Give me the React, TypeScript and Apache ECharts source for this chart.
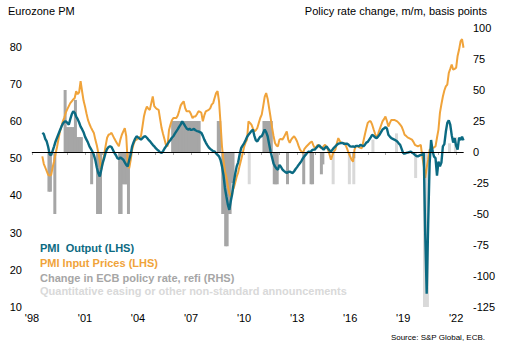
import React, { useEffect, useRef } from 'react';
import * as echarts from 'echarts';

// First month of the PMI series: July 1998
const startYear = 1998;
const startMonth = 7;

// Eurozone PMI Output (LHS), monthly from Jul 1998
const pmiOutput: number[] = [
  56.8, 56.5, 55.2, 54.5, 53, 51,
  50.8, 52, 53.2, 54.5, 55.5, 56.5, 57.5, 58.5, 59.3, 59.8, 59.9, 59.5,
  59, 60.5, 61.8, 62.6, 62.2, 61.2, 60.5, 59.6, 58.5, 57.8, 57, 55.8,
  55, 54.2, 53.2, 52.5, 51.8, 50.9, 49.5, 47.5, 46, 45.1, 46.8, 48.7,
  50, 51.5, 52.5, 53, 53.2, 53, 52.2, 51.4, 50.8, 50, 49.8, 50.2,
  49.9, 49.6, 48.9, 48.2, 47.8, 49.5, 51, 53.2, 54.3, 55.2, 55.9, 55.6,
  55.3, 55, 55.4, 55.8, 55.9, 55.5, 55, 54.6, 54.1, 53.6, 53.2, 52.7,
  52.3, 52, 51.6, 51.4, 51.9, 52.6, 53.2, 53.8, 54.4, 54.9, 55.5, 55.9,
  56.6, 57.2, 57.8, 58.5, 59.1, 59.9, 59.3, 58.6, 58, 57.7, 57.9, 57.6,
  57.7, 57.9, 57.5, 57.3, 57.2, 57, 56.8, 56, 55, 54.2, 53.5, 52.9,
  52.5, 52.2, 51.9, 51.8, 51.3, 50.9, 50.5, 49.5, 47.8, 45.5, 42, 39.7,
  37.5, 36.1, 38.5, 40.5, 43.5, 45.8, 47.8, 48.9, 51, 52.7, 53.4, 54,
  54.8, 55.7, 56.3, 56.8, 57.3, 57.7, 56, 54.8, 54.5, 55.2, 55.8, 55.9,
  56.8, 57.7, 57, 55.9, 53.8, 51.8, 50.2, 48.6, 47.8, 47.2, 46.9, 48.2,
  47.7, 47, 46.6, 46.3, 46, 46.3, 46.4, 46.2, 46, 46.5, 47.1, 47.6,
  48.2, 48.7, 49.3, 50, 50.5, 51, 51.5, 51.8, 51.6, 52.1, 52.3, 52.3,
  52.8, 53.2, 53.5, 53, 52.7, 52.3, 52.8, 53.2, 52.6, 52.1, 51.8, 52.3,
  52.8, 53.2, 53.6, 53.9, 54, 54.1, 54.1, 53.8, 53.9, 53.9, 53.6, 53.2,
  53.1, 53.2, 53, 53.3, 53.3, 53.2, 53.6, 53.4, 53.2, 53.6, 54.2, 54.4,
  55, 55.6, 56.3, 56, 55.6, 55.4, 55.8, 56.3, 57, 57.7, 58, 58.3,
  58, 56.3, 55.8, 55.4, 55.2, 55, 54.8, 54.5, 54, 53.6, 52.5, 51.4,
  51.2, 51.4, 51.5, 51.6, 51.8, 51.5, 51.3, 50.9, 50.6, 50.5, 50.7, 50.9,
  50.9, 51.6, 29.7, 13.6, 31.9, 48.5, 54.9, 51.9, 50.4, 50, 45.3, 49.1,
  47.8, 48.8, 53.2, 53.8, 57.1, 59.5, 60.2, 59, 56.2, 54.2, 55.4, 53.3,
  52.3, 55.5, 54.9, 55.8, 54.8,
];

// Eurozone PMI Input Prices (LHS), monthly from Jul 1998
const pmiInputPrices: number[] = [
  50.5, 48.5, 47.5, 46.5, 45.5, 45.3,
  45.5, 47.5, 49.2, 51.2, 53, 55.2, 57.2, 58.5, 60, 61, 62.3, 63.2,
  64, 64.8, 65.3, 65.8, 66.2, 68, 67.2, 67.7, 70.7, 68, 65.5, 63.9,
  62, 60.3, 59.2, 58.3, 57.5, 56.8, 55, 53.5, 51.5, 49.6, 46.9, 48.8,
  51, 53.3, 55.5, 56.3, 56.5, 56.8, 56, 55.2, 54.5, 53.8, 53.2, 55,
  56.3, 57.2, 58.1, 55.9, 48.7, 47.3, 49.5, 52.3, 53.8, 54.8, 55, 55.3,
  55.6, 55.9, 58.5, 61.2, 62.8, 63.9, 63.3, 63, 64.8, 66.6, 64, 63.5,
  63.2, 63, 60.5, 58.1, 56.5, 55, 53.5, 53.2, 57.5, 59, 60.2, 60.8,
  60.8, 60.8, 61.5, 62.8, 64.2, 64.8, 65.3, 63.5, 62.6, 62.6, 62.6, 61.8,
  60.8, 61.2, 61.2, 61.8, 62.6, 62.5, 62.2, 59.9, 61.5, 62.6, 62.8, 63,
  63.4, 64.4, 64.8, 66.2, 67.5, 68, 65.3, 59.5, 53.2, 49.5, 46.5, 45,
  42.5, 40.6, 39.7, 41, 42, 43.5, 45, 46.2, 48, 49.6, 51.2, 53,
  54.2, 55, 59.9, 59.5, 59, 58, 57.2, 57.5, 58.1, 59.5, 60.8, 61.7,
  64, 66.5, 67.5, 66, 63.5, 61, 58.3, 56, 54.1, 53.4, 53.2, 55,
  55.2, 55, 55.6, 56.4, 57.2, 55, 54.1, 55, 55.5, 55.9, 55.3, 54.5,
  53.3, 52.3, 51.8, 51.4, 52.5, 53, 53.4, 53.8, 54.2, 54.5, 53.5, 52.7,
  53, 53.6, 53.2, 52.8, 52.7, 53.2, 53.6, 53, 52.3, 51, 49.6, 50.8,
  51.8, 52.3, 54, 55.4, 54.6, 54.1, 54.1, 54, 53.5, 52.5, 51.4, 50.5,
  49.6, 49.1, 52.3, 53.3, 53.2, 53, 52.8, 52.7, 54.5, 56.3, 58, 59.5,
  59.9, 59.9, 59, 57.7, 56.5, 55.4, 56.5, 57.7, 58.8, 59.9, 60.5, 61.2,
  60, 58.5, 59.5, 60.3, 60.3, 60.3, 60.1, 59.9, 59.5, 59, 58.5, 57.5,
  56.3, 56, 55.6, 55.4, 55.2, 55, 54.4, 53.6, 53.4, 53.2, 53.4, 53.6,
  50.5, 48, 44.7, 47.5, 49.6, 52.3, 52.4, 52.7, 52.9, 53.2, 55.5, 57.7,
  62.2, 64.5, 66.6, 68.2, 69.3, 69.8, 72.9, 74, 75.2, 73.8, 74, 74.3,
  77.5, 79.2, 81.4, 82, 79.7,
];

// Change in ECB policy rate, refi (RHS), basis points
const policyMonths: string[] = [
  '1998-12', '1999-01', '1999-04', '1999-11', '1999-12',
  '2000-01', '2000-02', '2000-03', '2000-04', '2000-05', '2000-06',
  '2000-07', '2000-08', '2000-09', '2000-10',
  '2001-05', '2001-09', '2001-10', '2001-11',
  '2002-12', '2003-01', '2003-02', '2003-03', '2003-04', '2003-05', '2003-06',
  '2005-12', '2006-01', '2006-02', '2006-03', '2006-04', '2006-05', '2006-06',
  '2006-07', '2006-08', '2006-09', '2006-10', '2006-11', '2006-12',
  '2007-01', '2007-02', '2007-03', '2007-04', '2007-05', '2007-06',
  '2008-07', '2008-08', '2008-10', '2008-11', '2008-12',
  '2009-01', '2009-02', '2009-03', '2009-04', '2009-05',
  '2011-02', '2011-03', '2011-04', '2011-05', '2011-06', '2011-07',
  '2011-09', '2011-10', '2011-11', '2012-06',
  '2013-05', '2013-10', '2013-11', '2014-05', '2014-06', '2016-03',
];
const policyChange: number[] = [
  -32, -32, -50, 50, 20,
  20, 20, 20, 20, 20, 42,
  12, 12, 12, 12,
  -26, -50, -50, -50,
  -50, -50, -26, -26, -26, -26, -50,
  25, 25, 25, 25, 25, 25, 25,
  25, 25, 25, 25, 25, 25,
  25, 25, 25, 25, 25, 25,
  25, 25, -50, -50, -76,
  -76, -50, -50, -25, -25,
  25, 25, 25, 25, 25, 25,
  -26, -26, -26, -26,
  -26, -26, -26, -18, -10, -5,
];

// Quantitative easing or other non-standard announcements (RHS)
const qeMonths: string[] = [
  '2010-04', '2015-01', '2015-12', '2016-03', '2017-04', '2018-08',
  '2019-09', '2020-03', '2020-04', '2020-05', '2021-08', '2021-12',
];
const qeChange: number[] = [-26, -26, -26, -26, 10, 15, -21, -125, -125, -125, 7, 12];

const xTickYears = [
  1998, 1999, 2000, 2001, 2002, 2003, 2004, 2005, 2006, 2007, 2008, 2009, 2010,
  2011, 2012, 2013, 2014, 2015, 2016, 2017, 2018, 2019, 2020, 2021, 2022,
];
const xLabelYears = [1998, 2001, 2004, 2007, 2010, 2013, 2016, 2019, 2022];

const legendItems = [
  { text: 'PMI  Output (LHS)', color: '#0B6A82' },
  { text: 'PMI Input Prices (LHS)', color: '#F0A33A' },
  { text: 'Change in ECB policy rate, refi (RHS)', color: '#A6A6A6' },
  { text: 'Quantitative easing or other non-standard announcements', color: '#D9D9D9' },
];

const monthEnd = (i: number) => startYear + (startMonth - 1 + i + 1) / 12;
const midMonth = (s: string) => {
  const [y, m] = s.split('-').map(Number);
  return y + (m - 0.5) / 12;
};

const barRenderer = (color: string) => (params: any, api: any) => {
  const x = api.value(0);
  const v = api.value(1);
  const p0 = api.coord([x, 0]);
  const p1 = api.coord([x, v]);
  const w = 3;
  return {
    type: 'rect',
    shape: {
      x: p0[0] - w / 2,
      y: Math.min(p0[1], p1[1]),
      width: w,
      height: Math.abs(p1[1] - p0[1]),
    },
    style: { fill: color },
  };
};

export default function App() {
  const ref = useRef<HTMLDivElement>(null);
  useEffect(() => {
    if (!ref.current) return;
    const chart = echarts.init(ref.current, null, { renderer: 'svg' });
    const font = '"Liberation Sans", Arial, sans-serif';
    const legendY = [248, 263, 278, 291];
    chart.setOption({
      animation: false,
      backgroundColor: '#ffffff',
      textStyle: { fontFamily: font },
      grid: { left: 32, right: 43.5, top: 28, bottom: 44 },
      xAxis: {
        type: 'value',
        min: 1998,
        max: 2022 + 5 / 12,
        interval: 1,
        axisLine: { lineStyle: { color: '#a6a6a6', width: 1 } },
        axisTick: { show: true, length: 3, lineStyle: { color: '#a6a6a6' }, customValues: xTickYears },
        axisLabel: {
          customValues: xLabelYears,
          formatter: (v: number) => "'" + String(v).slice(2),
          color: '#000',
          fontSize: 11,
          margin: 5,
          fontFamily: font,
        },
        splitLine: { show: false },
      },
      yAxis: [
        {
          type: 'value',
          min: 10,
          max: 85,
          interval: 10,
          position: 'left',
          axisLine: { show: false },
          axisTick: { show: false },
          splitLine: { show: false },
          axisLabel: {
            formatter: (v: number) => (v === 85 ? '' : String(v)),
            color: '#000',
            fontSize: 11,
            margin: 10,
            fontFamily: font,
          },
        },
        {
          type: 'value',
          min: -125,
          max: 100,
          interval: 25,
          position: 'right',
          axisLine: { show: false },
          axisTick: { show: false },
          splitLine: { show: false },
          axisLabel: { color: '#000', fontSize: 11, margin: 9.5, fontFamily: font },
        },
      ],
      series: [
        {
          name: 'QE',
          type: 'custom',
          yAxisIndex: 1,
          renderItem: barRenderer('#D9D9D9'),
          encode: { x: 0, y: 1 },
          data: qeMonths.map((m, i) => [midMonth(m), qeChange[i]]),
        },
        {
          name: 'Policy',
          type: 'custom',
          yAxisIndex: 1,
          renderItem: barRenderer('#A6A6A6'),
          encode: { x: 0, y: 1 },
          data: policyMonths.map((m, i) => [midMonth(m), policyChange[i]]),
          markLine: {
            silent: true,
            symbol: ['none', 'none'],
            label: { show: false },
            lineStyle: { color: '#000', width: 1, type: 'solid' },
            data: [{ yAxis: 0 }],
          },
        },
        {
          name: 'Input',
          type: 'line',
          yAxisIndex: 0,
          showSymbol: false,
          lineStyle: { color: '#F0A33A', width: 2 },
          data: pmiInputPrices.map((v, i) => [monthEnd(i), v]),
        },
        {
          name: 'Output',
          type: 'line',
          yAxisIndex: 0,
          showSymbol: false,
          lineStyle: { color: '#0B6A82', width: 2.4 },
          data: pmiOutput.map((v, i) => [monthEnd(i), v]),
        },
      ],
      graphic: [
        {
          type: 'text',
          x: 8,
          y: 11,
          style: { text: 'Eurozone PM', fill: '#000', font: '11px ' + font, verticalAlign: 'middle' },
        },
        {
          type: 'text',
          x: 487,
          y: 11,
          style: {
            text: 'Policy rate change, m/m, basis points',
            fill: '#000',
            font: '11px ' + font,
            align: 'right',
            verticalAlign: 'middle',
          },
        },
        ...legendItems.map((item, k) => ({
          type: 'text',
          x: 40,
          y: legendY[k],
          style: {
            text: item.text,
            fill: item.color,
            font: 'bold 11px ' + font,
            verticalAlign: 'middle',
          },
        })),
        {
          type: 'text',
          x: 485,
          y: 337,
          style: {
            text: 'Source: S&P Global, ECB.',
            fill: '#000',
            font: '8px ' + font,
            align: 'right',
            verticalAlign: 'middle',
          },
        },
      ],
    });
    return () => chart.dispose();
  }, []);
  return (
    <div
      ref={ref}
      style={{ position: 'absolute', left: 0, top: 0, width: 507, height: 351, background: '#fff' }}
    />
  );
}
